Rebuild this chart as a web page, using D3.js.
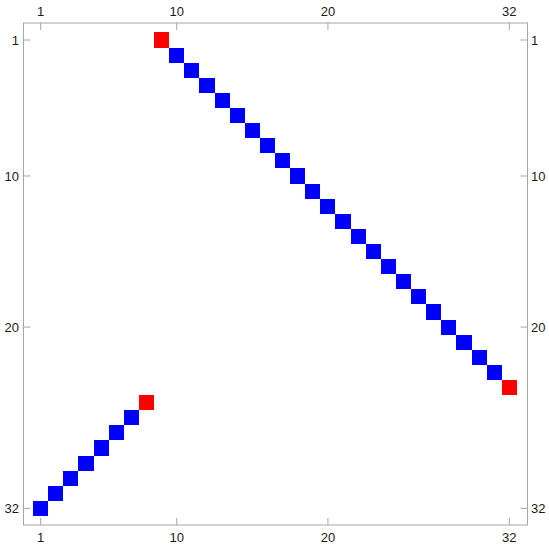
<!DOCTYPE html>
<html>
<head>
<meta charset="utf-8">
<script src="https://cdn.jsdelivr.net/npm/d3@7"></script>
<style>
  body { margin: 0; background: #fff; }
  svg text { font-family: "Liberation Sans", Arial, sans-serif; font-size: 13px; fill: #1a1a1a; }
</style>
</head>
<body>
<script>
// matrix size
var n = 32;
// nonzero entries: row -> column
var rows = [1, 2, 3, 4, 5, 6, 7, 8, 9, 10, 11, 12, 13, 14, 15, 16,
            17, 18, 19, 20, 21, 22, 23, 24, 25, 26, 27, 28, 29, 30, 31, 32];
var cols = [9, 10, 11, 12, 13, 14, 15, 16, 17, 18, 19, 20, 21, 22, 23, 24,
            25, 26, 27, 28, 29, 30, 31, 32, 8, 7, 6, 5, 4, 3, 2, 1];
// value of each entry (-1 drawn red, 1 drawn blue)
var vals = [-1, 1, 1, 1, 1, 1, 1, 1, 1, 1, 1, 1, 1, 1, 1, 1,
            1, 1, 1, 1, 1, 1, 1, -1, -1, 1, 1, 1, 1, 1, 1, 1];
var xTicks = [1, 10, 20, 32];
var yTicks = [1, 10, 20, 32];

var W = 549, H = 550;
var frame = {left: 23.5, right: 527.5, top: 23, bottom: 525};

var svg = d3.select('body').append('svg')
    .attr('width', W)
    .attr('height', H);

var x = d3.scaleLinear().domain([0.5, n + 0.5]).range([33.1, 516.9]);
var y = d3.scaleLinear().domain([0.5, n + 0.5]).range([32.45, 515.95]);

var cells = rows.map(function(r, i) { return {r: r, c: cols[i], v: vals[i]}; });

svg.append('g')
  .selectAll('rect')
  .data(cells)
  .enter()
  .append('rect')
  .attr('x', function(d) { return x(d.c - 0.5); })
  .attr('y', function(d) { return y(d.r - 0.5); })
  .attr('width', function(d) { return x(d.c + 0.5) - x(d.c - 0.5); })
  .attr('height', function(d) { return y(d.r + 0.5) - y(d.r - 0.5); })
  .attr('fill', function(d) { return d.v < 0 ? '#ff0000' : '#0000ff'; })
  .attr('shape-rendering', 'crispEdges');

// frame
svg.append('rect')
  .attr('x', frame.left)
  .attr('y', frame.top)
  .attr('width', frame.right - frame.left)
  .attr('height', frame.bottom - frame.top)
  .attr('fill', 'none')
  .attr('stroke', '#a6a6a6')
  .attr('stroke-width', 1);

var tickLen = 7;
var ticks = svg.append('g').attr('stroke', '#a6a6a6').attr('stroke-width', 1);

xTicks.forEach(function(t) {
  ticks.append('line').attr('x1', x(t)).attr('x2', x(t))
    .attr('y1', frame.top).attr('y2', frame.top + tickLen);
  ticks.append('line').attr('x1', x(t)).attr('x2', x(t))
    .attr('y1', frame.bottom).attr('y2', frame.bottom - tickLen);
  svg.append('text').attr('x', x(t)).attr('y', 15.5)
    .attr('text-anchor', 'middle').text(t);
  svg.append('text').attr('x', x(t)).attr('y', 542)
    .attr('text-anchor', 'middle').text(t);
});

yTicks.forEach(function(t) {
  ticks.append('line').attr('y1', y(t)).attr('y2', y(t))
    .attr('x1', frame.left).attr('x2', frame.left + tickLen);
  ticks.append('line').attr('y1', y(t)).attr('y2', y(t))
    .attr('x1', frame.right).attr('x2', frame.right - tickLen);
  svg.append('text').attr('x', 19).attr('y', y(t))
    .attr('dy', '0.35em').attr('text-anchor', 'end').text(t);
  svg.append('text').attr('x', 531).attr('y', y(t))
    .attr('dy', '0.35em').attr('text-anchor', 'start').text(t);
});
</script>
</body>
</html>
